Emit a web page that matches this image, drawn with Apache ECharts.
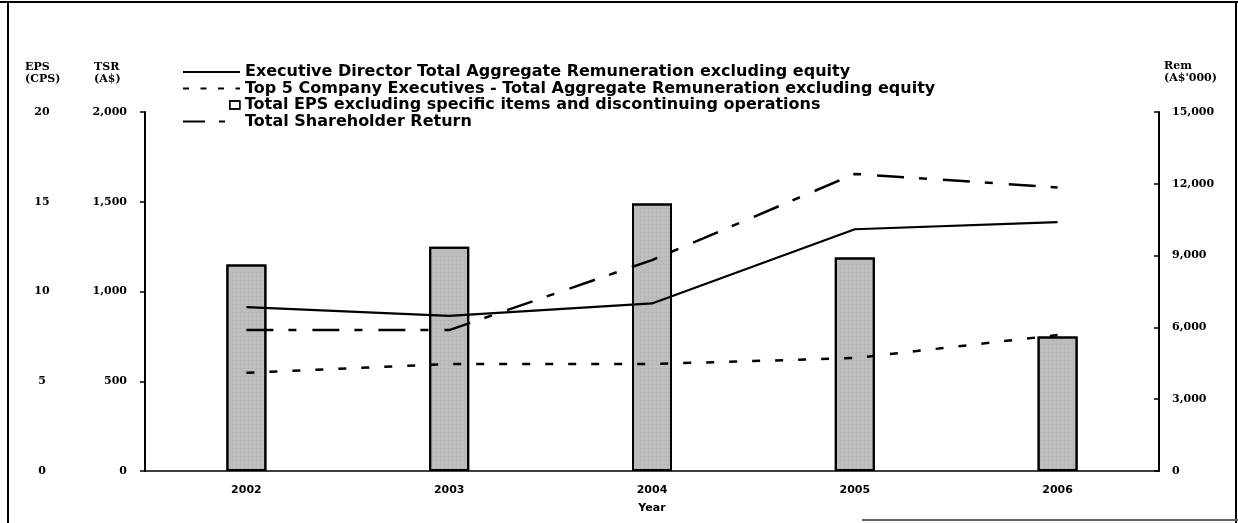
<!DOCTYPE html>
<html>
<head>
<meta charset="utf-8">
<script src="https://cdn.jsdelivr.net/npm/echarts@6/dist/echarts.min.js"></script>
<style>
  html, body { margin: 0; padding: 0; background: #fff; }
  #chart { width: 1238px; height: 523px; }
</style>
</head>
<body>
<div id="chart"></div>
<script>
// values
var years = ['2002', '2003', '2004', '2005', '2006'];
var epsValues = [11.5, 12.5, 14.9, 11.9, 7.5];          // cents per share, left axis
var directorRem = [6850, 6480, 7000, 10100, 10400];     // A$'000, right axis
var top5Rem = [4100, 4470, 4470, 4720, 5680];           // A$'000, right axis
var tsrValues = [785, 785, 1175, 1655, 1580];           // A$, TSR axis

var nameDir = 'Executive Director Total Aggregate Remuneration excluding equity';
var nameTop5 = 'Top 5 Company Executives - Total Aggregate Remuneration excluding equity';
var nameEps = 'Total EPS excluding specific items and discontinuing operations';
var nameTsr = 'Total Shareholder Return';

var legendText = { fontFamily: 'DejaVu Sans', fontWeight: 'bold', fontSize: 16, color: '#000' };
var tickFont = { fontFamily: 'DejaVu Serif', fontWeight: 'bold', fontSize: 11, color: '#000' };
var noSymbol = { opacity: 0 };

function thousands(v) {
  return String(v).replace(/\B(?=(\d{3})+(?!\d))/g, ',');
}

var myChart = echarts.init(document.getElementById('chart'));
var option = {
  backgroundColor: '#fff',
  animation: false,
  grid: { left: 145, right: 79, top: 112, bottom: 52 },
  legend: [
    {
      data: [nameDir], left: 182, top: 64, padding: 0, itemWidth: 57, itemHeight: 12,
      itemStyle: noSymbol, textStyle: legendText, selectedMode: false
    },
    {
      data: [nameTop5], left: 182, top: 80.5, padding: 0, itemWidth: 57, itemHeight: 12,
      itemStyle: noSymbol, lineStyle: { type: [6, 11.5] },
      textStyle: legendText, selectedMode: false
    },
    {
      data: [{ name: nameEps, icon: 'rect' }], left: 229, top: 97, padding: 0, itemWidth: 10, itemHeight: 8,
      itemStyle: { color: '#fff', borderColor: '#000', borderWidth: 1.5 },
      textStyle: legendText, selectedMode: false
    },
    {
      data: [nameTsr], left: 182, top: 113.5, padding: 0, itemWidth: 57, itemHeight: 12,
      itemStyle: noSymbol, lineStyle: { type: [22, 14, 6, 15] },
      textStyle: legendText, selectedMode: false
    }
  ],
  xAxis: {
    type: 'category',
    data: years,
    name: 'Year',
    nameLocation: 'middle',
    nameGap: 32,
    nameTextStyle: { fontFamily: 'DejaVu Sans', fontWeight: 'bold', fontSize: 11, color: '#000' },
    axisLine: { lineStyle: { color: '#000', width: 1.5 } },
    axisTick: { show: false },
    axisLabel: { fontFamily: 'DejaVu Sans', fontWeight: 'bold', fontSize: 11, color: '#000', margin: 14 }
  },
  yAxis: [
    {
      // TSR (A$)
      type: 'value', position: 'left', min: 0, max: 2000, interval: 500,
      axisLine: { show: true, lineStyle: { color: '#000', width: 2 } },
      axisTick: { show: true, length: 5, lineStyle: { color: '#000', width: 1.5 } },
      splitLine: { show: false },
      axisLabel: Object.assign({ margin: 18, formatter: thousands }, tickFont)
    },
    {
      // EPS (CPS)
      type: 'value', position: 'left', min: 0, max: 20, interval: 5,
      axisLine: { show: false },
      axisTick: { show: false },
      splitLine: { show: false },
      axisLabel: Object.assign({ margin: 103, align: 'center' }, tickFont)
    },
    {
      // Rem (A$'000)
      type: 'value', position: 'right', min: 0, max: 15000, interval: 3000,
      axisLine: { show: true, lineStyle: { color: '#000', width: 2 } },
      axisTick: { show: true, length: 5, inside: true, lineStyle: { color: '#000', width: 1.5 } },
      splitLine: { show: false },
      axisLabel: Object.assign({ margin: 13, formatter: thousands }, tickFont)
    }
  ],
  series: [
    {
      name: nameEps,
      type: 'bar',
      yAxisIndex: 1,
      data: epsValues,
      barWidth: 40,
      itemStyle: {
        color: '#bdbdbd',
        borderColor: '#000',
        borderWidth: 2,
        decal: { symbol: 'circle', symbolSize: 0.5, color: 'rgba(0,0,0,0.5)', dashArrayX: [1, 3], dashArrayY: [1, 3] }
      }
    },
    {
      name: nameDir,
      type: 'line',
      yAxisIndex: 2,
      data: directorRem,
      symbol: 'none',
      lineStyle: { color: '#000', width: 2.2, type: 'solid' },
      itemStyle: { color: '#000' }
    },
    {
      name: nameTop5,
      type: 'line',
      yAxisIndex: 2,
      data: top5Rem,
      symbol: 'none',
      lineStyle: { color: '#000', width: 2.5, type: [8, 15] },
      itemStyle: { color: '#000' }
    },
    {
      name: nameTsr,
      type: 'line',
      yAxisIndex: 0,
      data: tsrValues,
      symbol: 'none',
      lineStyle: { color: '#000', width: 2.5, type: [27, 15, 8, 16] },
      itemStyle: { color: '#000' }
    }
  ],
  graphic: [
    // page frame
    { type: 'line', shape: { x1: 0, y1: 2, x2: 1238, y2: 2 }, style: { stroke: '#000', lineWidth: 2 } },
    { type: 'line', shape: { x1: 8, y1: 2, x2: 8, y2: 523 }, style: { stroke: '#000', lineWidth: 2 } },
    { type: 'line', shape: { x1: 1236, y1: 2, x2: 1236, y2: 523 }, style: { stroke: '#000', lineWidth: 2 } },
    { type: 'line', shape: { x1: 862, y1: 520, x2: 1238, y2: 520 }, style: { stroke: '#666', lineWidth: 2 } },
    // axis titles
    {
      type: 'text', left: 25, top: 61,
      style: { text: 'EPS\n(CPS)', align: 'center', fill: '#000', font: 'bold 11px "DejaVu Serif"', lineHeight: 12 }
    },
    {
      type: 'text', left: 94, top: 61,
      style: { text: 'TSR\n(A$)', align: 'center', fill: '#000', font: 'bold 11px "DejaVu Serif"', lineHeight: 12 }
    },
    {
      type: 'text', left: 1164, top: 60,
      style: { text: 'Rem\n(A$\'000)', align: 'center', fill: '#000', font: 'bold 11px "DejaVu Serif"', lineHeight: 12 }
    }
  ]
};

option && myChart.setOption(option);
</script>
</body>
</html>
